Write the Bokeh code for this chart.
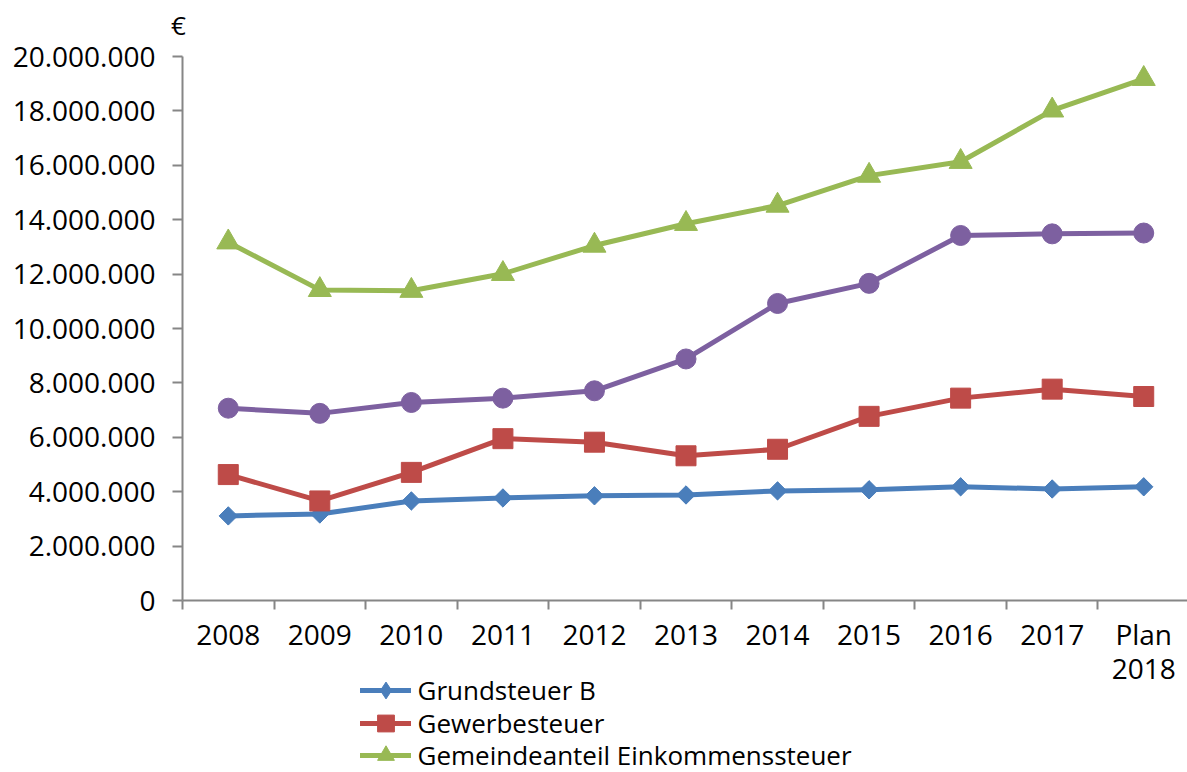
import math
from bokeh.plotting import figure
from bokeh.models import (Range1d, FixedTicker, Legend, LegendItem, Label)
from bokeh.embed import file_html
from bokeh.resources import INLINE

# Kommunale Steuereinnahmen in Euro
years = ["2008", "2009", "2010", "2011", "2012", "2013", "2014", "2015", "2016", "2017", "Plan\n2018"]
grundsteuer_b = [3110000, 3180000, 3660000, 3770000, 3850000, 3880000, 4030000, 4070000, 4180000, 4100000, 4180000]
gewerbesteuer = [4630000, 3660000, 4710000, 5950000, 5820000, 5320000, 5560000, 6770000, 7440000, 7770000, 7500000]
einkommensteuer = [13170000, 11420000, 11390000, 12010000, 13050000, 13850000, 14520000, 15620000, 16130000, 18020000, 19180000]
weitere = [7070000, 6880000, 7280000, 7440000, 7710000, 8880000, 10920000, 11660000, 13420000, 13480000, 13510000]
y_ticks = list(range(0, 20000001, 2000000))

FONT = "Open Sans"
TXT = "#000000"
AXIS = "#868686"
TICK_FS = "28px"
LEG_FS = "26px"

n = len(years)
xs = [i + 0.5 for i in range(n)]

# the frame fills the whole canvas; both axes are pinned at zero
W, H = 1187, 772
x0_px, y0_px, ytop_px = 182, 600, 56
cat_px = 1007 / n
px_per_unit = (y0_px - ytop_px) / 20000000
x_range = Range1d(-x0_px / cat_px, (W - x0_px) / cat_px)
y_range = Range1d(-(H - y0_px) / px_per_unit, 20000000 + ytop_px / px_per_unit)

p = figure(width=W, height=H, output_backend="svg", toolbar_location=None,
           x_range=x_range, y_range=y_range,
           min_border_left=0, min_border_right=0, min_border_top=0, min_border_bottom=0)
p.outline_line_color = None
p.xgrid.visible = False
p.ygrid.visible = False
p.background_fill_color = "white"
p.border_fill_color = "white"

# x axis: tick marks between categories, labels centred on each category
xa = p.xaxis[0]
xa.fixed_location = 0
xa.bounds = (0, x_range.end)
xa.ticker = FixedTicker(ticks=xs, minor_ticks=list(range(n + 1)))
xa.major_label_overrides = {x: lab for x, lab in zip(xs, years)}
xa.major_tick_out = 0
xa.major_tick_in = 0
xa.minor_tick_out = 9
xa.minor_tick_in = 0
xa.minor_tick_line_color = AXIS
xa.minor_tick_line_width = 2
xa.axis_line_color = AXIS
xa.axis_line_width = 2
xa.major_label_text_font = FONT
xa.major_label_text_font_size = TICK_FS
xa.major_label_text_color = TXT
xa.major_label_text_line_height = 0.92
xa.major_label_standoff = 5

ya = p.yaxis[0]
ya.fixed_location = 0
ya.bounds = (0, 20000000)
ya.ticker = FixedTicker(ticks=y_ticks, minor_ticks=[])
ya.major_label_overrides = {v: f"{v:,}".replace(",", ".") for v in y_ticks}
ya.major_tick_out = 10
ya.major_tick_in = 0
ya.major_tick_line_color = AXIS
ya.major_tick_line_width = 2
ya.axis_line_color = AXIS
ya.axis_line_width = 2
ya.major_label_text_font = FONT
ya.major_label_text_font_size = TICK_FS
ya.major_label_text_color = TXT
ya.major_label_standoff = 17

# (values, colour, marker, size, angle, legend marker, legend label)
series = [
    (grundsteuer_b, "#4A7EBB", "square", 13, math.pi / 4, "diamond", "Grundsteuer B"),
    (gewerbesteuer, "#BE4B48", "square", 20, 0, "square", "Gewerbesteuer"),
    (einkommensteuer, "#98B954", "triangle", 23, 0, "triangle", "Gemeindeanteil Einkommenssteuer"),
    (weitere, "#7D60A0", "circle", 20, 0, None, None),
]

legend_rows = []
for vals, col, mk, sz, ang, leg_mk, name in series:
    ln = p.line(xs, vals, line_color=col, line_width=5, line_join="round", line_cap="round")
    rends = [ln]
    if leg_mk is not None and leg_mk != mk:
        # plain diamond beneath the turned square, used for the legend symbol
        rends.append(p.scatter(xs, vals, marker=leg_mk, size=17,
                               fill_color=col, line_color=col))
    sc = p.scatter(xs, vals, marker=mk, size=sz, angle=ang,
                   fill_color=col, line_color=col, line_width=1)
    if name:
        if len(rends) == 1:
            rends.append(sc)
        legend_rows.append(LegendItem(label=name, renderers=rends))

# one legend box per row so that the rows keep an even spacing
row_centres = [689.5, 722.5, 754.5]
box_h = 42
for item, cy in zip(legend_rows, row_centres):
    lg = Legend(items=[item], location=(x0_px + 177.5, H - (cy + box_h / 2)),
                orientation="vertical",
                glyph_width=51, glyph_height=box_h, label_height=box_h, label_width=10,
                label_standoff=7, spacing=0, padding=0, margin=0,
                border_line_color=None, background_fill_alpha=0,
                label_text_font=FONT, label_text_font_size=LEG_FS,
                label_text_color=TXT, label_text_line_height=1.0)
    p.add_layout(lg, "center")

p.add_layout(Label(x=0, y=20000000, x_offset=-4, y_offset=32, text="€",
                   text_font=FONT, text_font_size="26px", text_color=TXT,
                   text_align="center", text_baseline="middle"))

open("out.html", "w").write(file_html(p, INLINE))
